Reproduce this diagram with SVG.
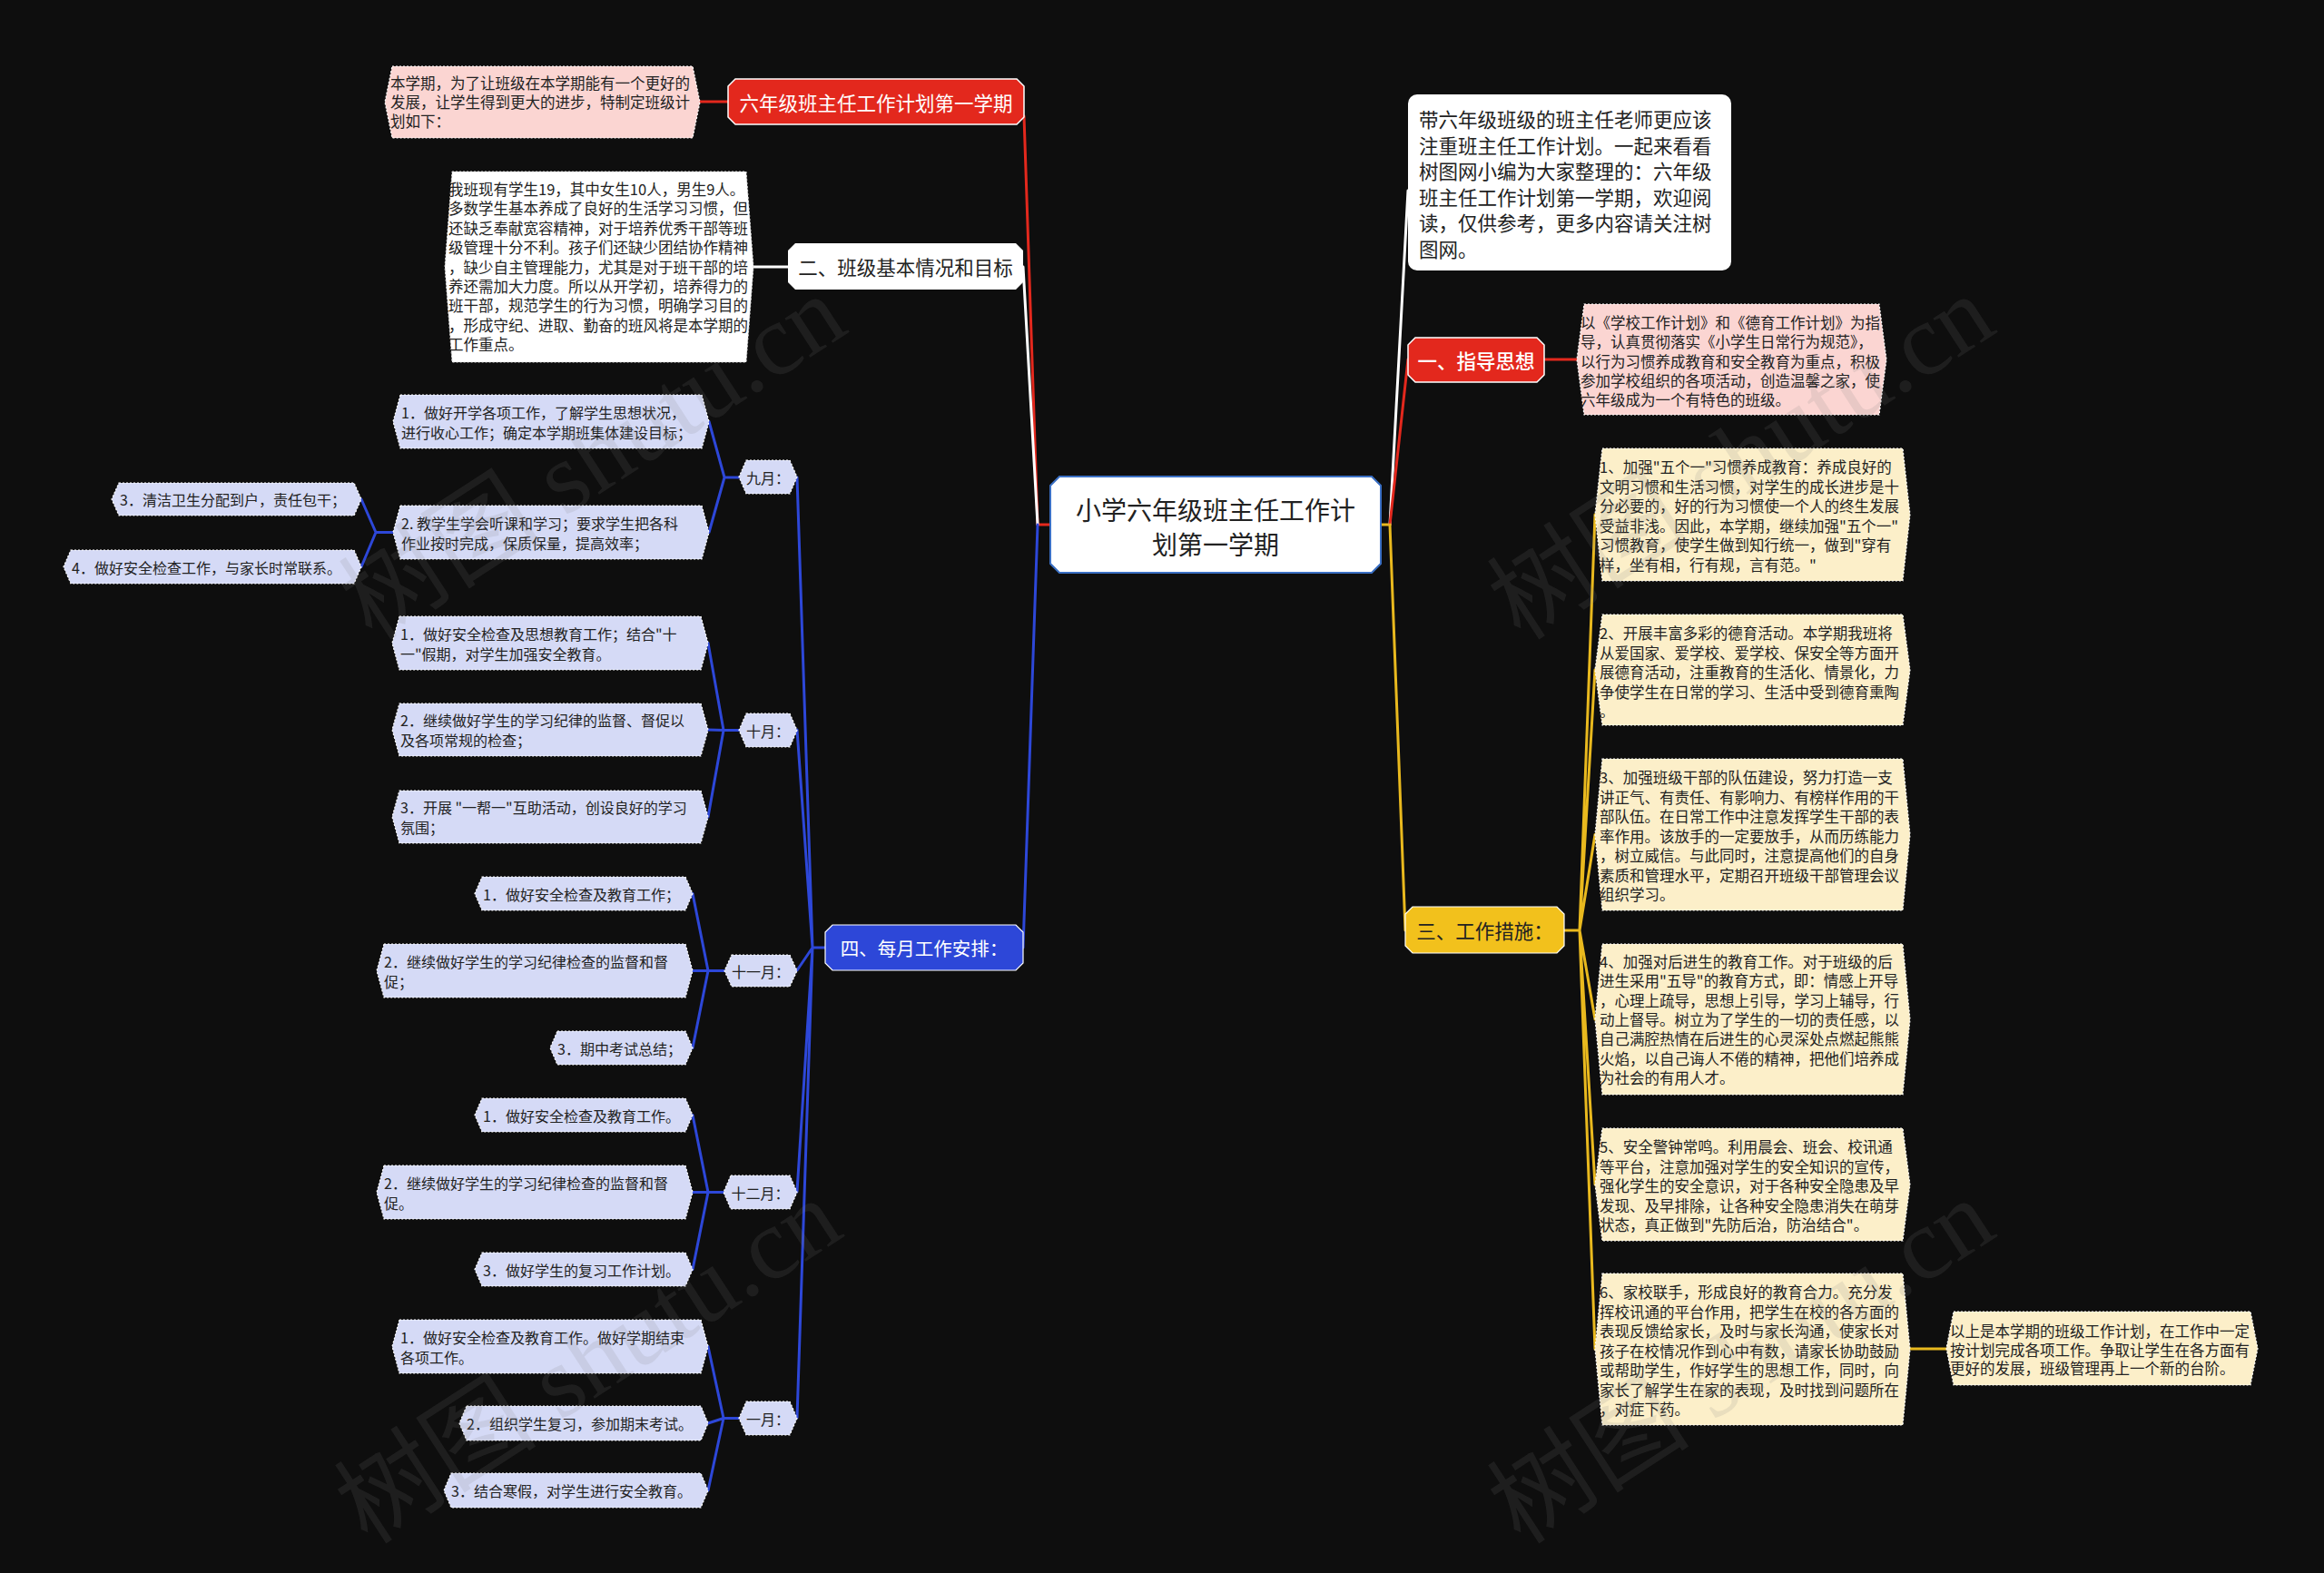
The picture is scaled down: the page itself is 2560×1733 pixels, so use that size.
<svg xmlns="http://www.w3.org/2000/svg" width="2560" height="1733" viewBox="0 0 2560 1733">
<style>
text{font-family:"Noto Sans CJK SC","Noto Sans",sans-serif;dominant-baseline:central}
.dk{fill:#222}
.wt{fill:#fff}
.s16{font-size:16px}
.s165{font-size:16.5px}
.s21{font-size:21.5px}
.mid{text-anchor:middle}
.red{fill:#e3281d;stroke:#fff;stroke-width:1.5}
.pink{fill:#fbd5d2;stroke:#fff;stroke-width:1.2;stroke-dasharray:2 2}
.white{fill:#fff}
.blue{fill:#2d47d8;stroke:#fff;stroke-width:1.2}
.lav{fill:#d5daf6;stroke:#fff;stroke-width:1.2;stroke-dasharray:2 2}
.yel{fill:#f2c11c;stroke:#fff;stroke-width:1.2}
.cream{fill:#fcefc9;stroke:#fff;stroke-width:1.2;stroke-dasharray:2 2}
.c{fill:none;stroke-width:3;stroke-linecap:round;stroke-linejoin:round}
.cr{stroke:#e3281d}.cw{stroke:#fff}.cb{stroke:#2d47d8}.cy{stroke:#e9b91e}
.wm{font-family:"Liberation Serif","Noto Sans CJK SC",serif;font-size:112px;fill:#808080;fill-opacity:0.15;text-anchor:middle}
</style>
<rect width="2560" height="1733" fill="#0e0e0e"/>

<g id="connectors">
<path class="c cr" d="M1157,578 H1143 L1128,128"/>
<path class="c cw" d="M1143,578 L1127,294"/>
<path class="c cb" d="M1143,578 L1127,1044"/>
<path class="c cr" d="M771,112 H802"/>
<path class="c cw" d="M830,294 H868"/>
<path class="c cb" d="M909,1044 H895 M895,1044 L878,526 M895,1044 L878,804 M895,1044 L878,1069 M895,1044 L878,1313 M895,1044 L878,1562"/>
<path class="c cb" d="M814,526 H798 M798,526 L781,464.5 M798,526 L781,586.5"/>
<path class="c cb" d="M433,586.5 H414 M414,586.5 L398,550 M414,586.5 L398,624.5"/>
<path class="c cb" d="M814,804.5 H797 M797,804.5 L780,708.5 M797,804.5 L780,804 M797,804.5 L780,900"/>
<path class="c cb" d="M798,1069.5 H780 M780,1069.5 L763,984.5 M780,1069.5 L763,1069.5 M780,1069.5 L763,1154.5"/>
<path class="c cb" d="M797,1313.5 H780 M780,1313.5 L763,1228.5 M780,1313.5 L763,1313.5 M780,1313.5 L763,1398.5"/>
<path class="c cb" d="M814,1562.5 H797 M797,1562.5 L780,1483.5 M797,1562.5 L780,1568 M797,1562.5 L780,1642"/>
<path class="c cy" d="M1521,578 H1531"/>
<path class="c cw" d="M1531,578 L1551,210"/>
<path class="c cr" d="M1531,578 L1551,396"/>
<path class="c cy" d="M1531,578 L1548,1025"/>
<path class="c cr" d="M1701,396 H1737"/>
<path class="c cy" d="M1723,1025 H1740 M1740,1025 L1757,567 M1740,1025 L1757,738 M1740,1025 L1757,919.5 M1740,1025 L1757,1123 M1740,1025 L1757,1305 M1740,1025 L1757,1486.5"/>
<path class="c cy" d="M2104,1486 H2144"/>
</g>

<g id="root">
<polygon points="1167,525 1511,525 1521,535 1521,621 1511,631 1167,631 1157,621 1157,535" fill="#fff" stroke="#3a6fc4" stroke-width="2"/>
<text class="dk mid" x="1339" y="561" font-size="28">小学六年级班主任工作计</text>
<text class="dk mid" x="1339" y="599" font-size="28">划第一学期</text>
</g>

<g id="n-title">
<polygon class="red" points="810,87 1120,87 1128,95 1128,129 1120,137 810,137 802,129 802,95"/>
<text class="wt mid s21" x="965" y="112">六年级班主任工作计划第一学期</text>
</g>
<g id="n-title-note">
<polygon class="pink" points="432,73 763,73 771,112.5 763,152 432,152 424,112.5"/>
<text class="dk s165" x="430"><tspan x="430" y="91">本学期，为了让班级在本学期能有一个更好的</tspan><tspan x="430" y="112">发展，让学生得到更大的进步，特制定班级计</tspan><tspan x="430" y="133">划如下：</tspan></text>
</g>

<g id="n-two">
<polygon points="876,268 1119,268 1127,276 1127,311 1119,319 876,319 868,311 868,276" fill="#fff"/>
<text class="dk mid s21" x="997.5" y="293.5">二、班级基本情况和目标</text>
</g>
<g id="n-two-note">
<polygon points="498,189 822,189 830,294 822,399 498,399 490,294" fill="#fff" stroke="#ddd" stroke-width="1" stroke-dasharray="2 2"/>
<text class="dk s165"><tspan x="494" y="208">我班现有学生19，其中女生10人，男生9人。</tspan><tspan x="494" y="229.4">多数学生基本养成了良好的生活学习习惯，但</tspan><tspan x="494" y="250.8">还缺乏奉献宽容精神，对于培养优秀干部等班</tspan><tspan x="494" y="272.2">级管理十分不利。孩子们还缺少团结协作精神</tspan><tspan x="494" y="293.6">，缺少自主管理能力，尤其是对于班干部的培</tspan><tspan x="494" y="315">养还需加大力度。所以从开学初，培养得力的</tspan><tspan x="494" y="336.4">班干部，规范学生的行为习惯，明确学习目的</tspan><tspan x="494" y="357.8">，形成守纪、进取、勤奋的班风将是本学期的</tspan><tspan x="494" y="379.2">工作重点。</tspan></text>
</g>

<g id="n-four">
<polygon class="blue" points="917,1019 1119,1019 1127,1027 1127,1061 1119,1069 917,1069 909,1061 909,1027"/>
<text class="wt mid" x="1018" y="1044" font-size="20.5">四、每月工作安排：</text>
</g>

<g id="m-sep">
<polygon class="lav" points="822,507 870,507 878,525.5 870,544 822,544 814,525.5"/>
<text class="dk mid s16" x="846" y="525.5">九月：</text>
</g>
<g id="m-sep-1">
<polygon class="lav" points="441,435 773,435 781,464.5 773,494 441,494 433,464.5"/>
<text class="dk s16"><tspan x="442" y="453.5">1．做好开学各项工作，了解学生思想状况，</tspan><tspan x="442" y="475.5">进行收心工作；确定本学期班集体建设目标；</tspan></text>
</g>
<g id="m-sep-2">
<polygon class="lav" points="441,557 773,557 781,586.5 773,616 441,616 433,586.5"/>
<text class="dk s16"><tspan x="442" y="575.5">2. 教学生学会听课和学习；要求学生把各科</tspan><tspan x="442" y="597.5">作业按时完成，保质保量，提高效率；</tspan></text>
</g>
<g id="m-sep-3">
<polygon class="lav" points="131,532 390,532 398,550 390,568 131,568 123,550"/>
<text class="dk s16" x="132" y="550">3．清洁卫生分配到户，责任包干；</text>
</g>
<g id="m-sep-4">
<polygon class="lav" points="78,606 390,606 398,624.5 390,643 78,643 70,624.5"/>
<text class="dk s16" x="79" y="624.5">4．做好安全检查工作，与家长时常联系。</text>
</g>

<g id="m-oct">
<polygon class="lav" points="822,786 870,786 878,804.5 870,823 822,823 814,804.5"/>
<text class="dk mid s16" x="846" y="804.5">十月：</text>
</g>
<g id="m-oct-1">
<polygon class="lav" points="440,679 772,679 780,708.5 772,738 440,738 432,708.5"/>
<text class="dk s16"><tspan x="441" y="697.5">1．做好安全检查及思想教育工作；结合"十</tspan><tspan x="441" y="719.5">一"假期，对学生加强安全教育。</tspan></text>
</g>
<g id="m-oct-2">
<polygon class="lav" points="440,775 772,775 780,804 772,833 440,833 432,804"/>
<text class="dk s16"><tspan x="441" y="793">2．继续做好学生的学习纪律的监督、督促以</tspan><tspan x="441" y="815">及各项常规的检查；</tspan></text>
</g>
<g id="m-oct-3">
<polygon class="lav" points="440,871 772,871 780,900 772,929 440,929 432,900"/>
<text class="dk s16"><tspan x="441" y="889">3．开展 "一帮一"互助活动，创设良好的学习</tspan><tspan x="441" y="911">氛围；</tspan></text>
</g>

<g id="m-nov">
<polygon class="lav" points="806,1052 870,1052 878,1069.5 870,1087 806,1087 798,1069.5"/>
<text class="dk mid s16" x="838" y="1069.5">十一月：</text>
</g>
<g id="m-nov-1">
<polygon class="lav" points="531,966 755,966 763,984.5 755,1003 531,1003 523,984.5"/>
<text class="dk s16" x="532" y="984.5">1．做好安全检查及教育工作；</text>
</g>
<g id="m-nov-2">
<polygon class="lav" points="423,1040 755,1040 763,1069.5 755,1099 423,1099 415,1069.5"/>
<text class="dk s16"><tspan x="423" y="1058.5">2．继续做好学生的学习纪律检查的监督和督</tspan><tspan x="423" y="1080.5">促；</tspan></text>
</g>
<g id="m-nov-3">
<polygon class="lav" points="614,1136 755,1136 763,1154.5 755,1173 614,1173 606,1154.5"/>
<text class="dk s16" x="614" y="1154.5">3．期中考试总结；</text>
</g>

<g id="m-dec">
<polygon class="lav" points="805,1295 870,1295 878,1313.5 870,1332 805,1332 797,1313.5"/>
<text class="dk mid s16" x="837.5" y="1313.5">十二月：</text>
</g>
<g id="m-dec-1">
<polygon class="lav" points="531,1210 755,1210 763,1228.5 755,1247 531,1247 523,1228.5"/>
<text class="dk s16" x="532" y="1228.5">1．做好安全检查及教育工作。</text>
</g>
<g id="m-dec-2">
<polygon class="lav" points="423,1284 755,1284 763,1313.5 755,1343 423,1343 415,1313.5"/>
<text class="dk s16"><tspan x="423" y="1302.5">2．继续做好学生的学习纪律检查的监督和督</tspan><tspan x="423" y="1324.5">促。</tspan></text>
</g>
<g id="m-dec-3">
<polygon class="lav" points="531,1380 755,1380 763,1398.5 755,1417 531,1417 523,1398.5"/>
<text class="dk s16" x="532" y="1398.5">3．做好学生的复习工作计划。</text>
</g>

<g id="m-jan">
<polygon class="lav" points="822,1544 870,1544 878,1562.5 870,1581 822,1581 814,1562.5"/>
<text class="dk mid s16" x="846" y="1562.5">一月：</text>
</g>
<g id="m-jan-1">
<polygon class="lav" points="440,1454 772,1454 780,1483.5 772,1513 440,1513 432,1483.5"/>
<text class="dk s16"><tspan x="441" y="1472.5">1．做好安全检查及教育工作。做好学期结束</tspan><tspan x="441" y="1494.5">各项工作。</tspan></text>
</g>
<g id="m-jan-2">
<polygon class="lav" points="514,1549 772,1549 780,1568 772,1587 514,1587 506,1568"/>
<text class="dk s16" x="514" y="1568">2．组织学生复习，参加期末考试。</text>
</g>
<g id="m-jan-3">
<polygon class="lav" points="497,1623 772,1623 780,1642 772,1661 497,1661 489,1642"/>
<text class="dk s16" x="497" y="1642">3．结合寒假，对学生进行安全教育。</text>
</g>

<g id="n-intro">
<rect x="1551" y="104" width="356" height="194" rx="10" fill="#fff"/>
<text class="dk s21"><tspan x="1563" y="130">带六年级班级的班主任老师更应该</tspan><tspan x="1563" y="158.6">注重班主任工作计划。一起来看看</tspan><tspan x="1563" y="187.2">树图网小编为大家整理的：六年级</tspan><tspan x="1563" y="215.8">班主任工作计划第一学期，欢迎阅</tspan><tspan x="1563" y="244.4">读，仅供参考，更多内容请关注树</tspan><tspan x="1563" y="273">图网。</tspan></text>
</g>

<g id="n-one">
<polygon class="red" points="1559,372 1693,372 1701,380 1701,413 1693,421 1559,421 1551,413 1551,380"/>
<text class="wt mid s21" x="1626" y="396.5" font-weight="500">一、指导思想</text>
</g>
<g id="n-one-note">
<polygon class="pink" points="1745,335 2070,335 2078,396 2070,457 1745,457 1737,396"/>
<text class="dk s165"><tspan x="1741" y="355">以《学校工作计划》和《德育工作计划》为指</tspan><tspan x="1741" y="376.3">导，认真贯彻落实《小学生日常行为规范》，</tspan><tspan x="1741" y="397.6">以行为习惯养成教育和安全教育为重点，积极</tspan><tspan x="1741" y="418.9">参加学校组织的各项活动，创造温馨之家，使</tspan><tspan x="1741" y="440.2">六年级成为一个有特色的班级。</tspan></text>
</g>

<g id="n-three">
<polygon class="yel" points="1556,999 1715,999 1723,1007 1723,1042 1715,1050 1556,1050 1548,1042 1548,1007"/>
<text class="dk mid s21" x="1635.5" y="1024.5">三、工作措施：</text>
</g>
<g id="n-three-1">
<polygon class="cream" points="1765,494 2096,494 2104,567 2096,640 1765,640 1757,567"/>
<text class="dk s165"><tspan x="1762" y="514">1、加强"五个一"习惯养成教育：养成良好的</tspan><tspan x="1762" y="535.6">文明习惯和生活习惯，对学生的成长进步是十</tspan><tspan x="1762" y="557.2">分必要的，好的行为习惯使一个人的终生发展</tspan><tspan x="1762" y="578.8">受益非浅。因此，本学期，继续加强"五个一"</tspan><tspan x="1762" y="600.4">习惯教育，使学生做到知行统一，做到"穿有</tspan><tspan x="1762" y="622">样，坐有相，行有规，言有范。"</tspan></text>
</g>
<g id="n-three-2">
<polygon class="cream" points="1765,677 2096,677 2104,738 2096,799 1765,799 1757,738"/>
<text class="dk s165"><tspan x="1762" y="697">2、开展丰富多彩的德育活动。本学期我班将</tspan><tspan x="1762" y="718.5">从爱国家、爱学校、爱学校、保安全等方面开</tspan><tspan x="1762" y="740">展德育活动，注重教育的生活化、情景化，力</tspan><tspan x="1762" y="761.5">争使学生在日常的学习、生活中受到德育熏陶</tspan><tspan x="1762" y="783">。</tspan></text>
</g>
<g id="n-three-3">
<polygon class="cream" points="1765,836 2096,836 2104,919.5 2096,1003 1765,1003 1757,919.5"/>
<text class="dk s165"><tspan x="1762" y="856">3、加强班级干部的队伍建设，努力打造一支</tspan><tspan x="1762" y="877.5">讲正气、有责任、有影响力、有榜样作用的干</tspan><tspan x="1762" y="899">部队伍。在日常工作中注意发挥学生干部的表</tspan><tspan x="1762" y="920.5">率作用。该放手的一定要放手，从而历练能力</tspan><tspan x="1762" y="942">，树立威信。与此同时，注意提高他们的自身</tspan><tspan x="1762" y="963.5">素质和管理水平，定期召开班级干部管理会议</tspan><tspan x="1762" y="985">组织学习。</tspan></text>
</g>
<g id="n-three-4">
<polygon class="cream" points="1765,1040 2096,1040 2104,1123 2096,1206 1765,1206 1757,1123"/>
<text class="dk s165"><tspan x="1762" y="1059">4、加强对后进生的教育工作。对于班级的后</tspan><tspan x="1762" y="1080.3">进生采用"五导"的教育方式，即：情感上开导</tspan><tspan x="1762" y="1101.7">，心理上疏导，思想上引导，学习上辅导，行</tspan><tspan x="1762" y="1123">动上督导。树立为了学生的一切的责任感，以</tspan><tspan x="1762" y="1144.3">自己满腔热情在后进生的心灵深处点燃起熊熊</tspan><tspan x="1762" y="1165.7">火焰，以自己诲人不倦的精神，把他们培养成</tspan><tspan x="1762" y="1187">为社会的有用人才。</tspan></text>
</g>
<g id="n-three-5">
<polygon class="cream" points="1765,1243 2096,1243 2104,1305 2096,1367 1765,1367 1757,1305"/>
<text class="dk s165"><tspan x="1762" y="1263">5、安全警钟常鸣。利用晨会、班会、校讯通</tspan><tspan x="1762" y="1284.5">等平台，注意加强对学生的安全知识的宣传，</tspan><tspan x="1762" y="1306">强化学生的安全意识，对于各种安全隐患及早</tspan><tspan x="1762" y="1327.5">发现、及早排除，让各种安全隐患消失在萌芽</tspan><tspan x="1762" y="1349">状态，真正做到"先防后治，防治结合"。</tspan></text>
</g>
<g id="n-three-6">
<polygon class="cream" points="1765,1403 2096,1403 2104,1486.5 2096,1570 1765,1570 1757,1486.5"/>
<text class="dk s165"><tspan x="1762" y="1423">6、家校联手，形成良好的教育合力。充分发</tspan><tspan x="1762" y="1444.5">挥校讯通的平台作用，把学生在校的各方面的</tspan><tspan x="1762" y="1466">表现反馈给家长，及时与家长沟通，使家长对</tspan><tspan x="1762" y="1487.5">孩子在校情况作到心中有数，请家长协助鼓励</tspan><tspan x="1762" y="1509">或帮助学生，作好学生的思想工作，同时，向</tspan><tspan x="1762" y="1530.5">家长了解学生在家的表现，及时找到问题所在</tspan><tspan x="1762" y="1552">，对症下药。</tspan></text>
</g>
<g id="n-three-6-note">
<polygon class="cream" points="2152,1445 2479,1445 2487,1485.5 2479,1526 2152,1526 2144,1485.5"/>
<text class="dk s165"><tspan x="2148" y="1466">以上是本学期的班级工作计划，在工作中一定</tspan><tspan x="2148" y="1486.5">按计划完成各项工作。争取让学生在各方面有</tspan><tspan x="2148" y="1507">更好的发展，班级管理再上一个新的台阶。</tspan></text>
</g>

<g id="watermarks">
<text class="wm" transform="translate(653,504) rotate(-33)">树图 shutu.cn</text>
<text class="wm" transform="translate(648,1500) rotate(-33)">树图 shutu.cn</text>
<text class="wm" transform="translate(1918,504) rotate(-33)">树图 shutu.cn</text>
<text class="wm" transform="translate(1918,1500) rotate(-33)">树图 shutu.cn</text>
</g>
</svg>
